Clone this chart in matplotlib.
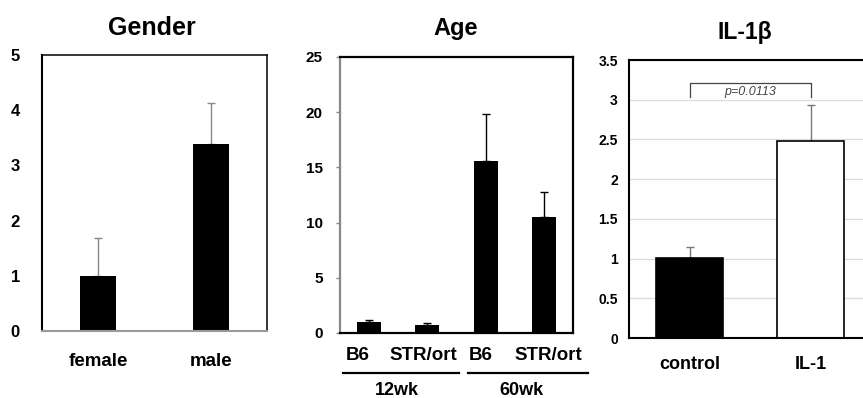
import numpy as np
import matplotlib
matplotlib.use("Agg")
import matplotlib.pyplot as plt

plt.rcParams['font.family'] = ['Liberation Sans', 'DejaVu Sans']
plt.rcParams['font.weight'] = 'bold'

# Gender panel
gender_labels = ["female", "male"]
gender_vals = [1.0, 3.38]
gender_err = [0.69, 0.75]

# Age panel
age_labels = ["B6", "STR/ort", "B6", "STR/ort"]
age_groups = ["12wk", "60wk"]
age_vals = [0.96, 0.75, 15.6, 10.5]
age_err = [0.18, 0.15, 4.25, 2.3]

# IL-1b panel
il_labels = ["control", "IL-1"]
il_vals = [1.01, 2.485]
il_err = [0.13, 0.445]
p_text = "p=0.0113"

W, H = 863, 398
fig = plt.figure(figsize=(W / 100, H / 100), dpi=100)

def ax_px(left, top, right, bottom):
    return fig.add_axes([left / W, 1 - bottom / H, (right - left) / W, (bottom - top) / H])

# ---- Gender ----
ax1 = ax_px(42, 55, 267, 331)
x1 = np.arange(len(gender_vals))
ax1.bar(x1, gender_vals, width=0.32, color='black', zorder=2)
ax1.errorbar(x1, gender_vals, yerr=[np.zeros(2), gender_err], fmt='none',
             ecolor='#888888', elinewidth=1, capsize=3, capthick=1, zorder=1)
ax1.set_xlim(-0.5, 1.5)
ax1.set_ylim(0, 5)
ax1.set_yticks(range(6))
ax1.set_xticks(x1)
ax1.set_xticklabels(gender_labels, fontsize=13.5)
ax1.tick_params(axis='y', length=0, pad=16, labelsize=12)
ax1.tick_params(axis='x', length=0, pad=16)
for s in ['top', 'right']:
    ax1.spines[s].set_color('black')
    ax1.spines[s].set_linewidth(1.1)
ax1.spines['left'].set_linewidth(1.5)
ax1.spines['bottom'].set_color('#999999')
ax1.spines['bottom'].set_linewidth(1.5)
fig.text(152 / W, 1 - 28 / H, "Gender", ha='center', va='center', fontsize=18)

# ---- Age ----
ax2 = ax_px(340, 57, 573, 333)
x2 = np.arange(len(age_vals))
ax2.bar(x2, age_vals, width=0.41, color='black', zorder=2)
ax2.errorbar(x2, age_vals, yerr=[np.zeros(4), age_err], fmt='none',
             ecolor='black', elinewidth=1, capsize=3, capthick=1, zorder=1)
ax2.set_xlim(-0.5, 3.5)
ax2.set_ylim(0, 25)
ax2.set_yticks(range(0, 26, 5))
ax2.set_xticks([])
ax2.tick_params(axis='y', length=3, width=1, color='#888888', pad=9.5, labelsize=11)
ax2.spines['left'].set_color('#888888')
for s in ax2.spines.values():
    s.set_linewidth(1.6)
# bar labels sit a little off the bar centres, as in the original
label_shift = [-0.19, -0.07, -0.09, 0.07]
xt = ax2.get_xaxis_transform()
for xi, dx, lab in zip(x2, label_shift, age_labels):
    ax2.text(xi + dx, -0.052, lab, transform=xt, ha='center', va='top', fontsize=13.5)
# group underlines and labels
ax2.plot([-0.45, 1.55], [-0.145, -0.145], transform=xt, color='black', lw=1.6, clip_on=False)
ax2.plot([1.70, 3.75], [-0.145, -0.145], transform=xt, color='black', lw=1.6, clip_on=False)
ax2.text(0.48, -0.207, age_groups[0], transform=xt, ha='center', va='center', fontsize=13)
ax2.text(2.61, -0.21, age_groups[1], transform=xt, ha='center', va='center', fontsize=13)
fig.text(456 / W, 1 - 28 / H, "Age", ha='center', va='center', fontsize=17)

# ---- IL-1b ----
ax3 = ax_px(629, 60, 871, 338)
x3 = np.arange(len(il_vals))
ax3.bar(x3, il_vals, width=0.56, color=['black', 'white'], edgecolor='black',
        linewidth=1.2, zorder=2)
ax3.errorbar(x3, il_vals, yerr=[np.zeros(2), il_err], fmt='none',
             ecolor='#777777', elinewidth=1, capsize=3, capthick=1, zorder=1)
ax3.set_xlim(-0.5, 1.5)
ax3.set_ylim(0, 3.5)
ax3.set_yticks(np.arange(0, 3.51, 0.5))
ax3.set_yticklabels(["0", "0.5", "1", "1.5", "2", "2.5", "3", "3.5"], fontsize=10)
ax3.set_xticks(x3)
ax3.set_xticklabels(il_labels, fontsize=13)
ax3.tick_params(axis='y', length=0, pad=8)
ax3.tick_params(axis='x', length=0, pad=13)
ax3.yaxis.grid(True, color='#dddddd', lw=1)
ax3.set_axisbelow(True)
for s in ax3.spines.values():
    s.set_color('black')
    s.set_linewidth(1.5)
# significance bracket
ax3.plot([0, 0, 1, 1], [3.04, 3.21, 3.21, 3.04], color='#444444', lw=0.9, zorder=3)
ax3.text(0.5, 3.10, p_text, ha='center', va='center', fontsize=9,
         style='italic', weight='normal', color='#444444')
fig.text(745 / W, 1 - 32 / H, "IL-1β", ha='center', va='center', fontsize=16.5)

fig.savefig("out.png", dpi=100)
